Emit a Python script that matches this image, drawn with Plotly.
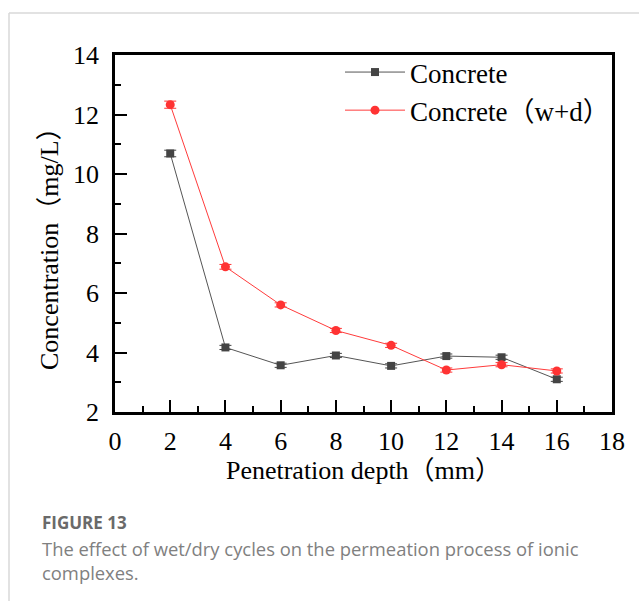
import plotly.graph_objects as go

depth = [2, 4, 6, 8, 10, 12, 14, 16]
conc_plain = [10.69, 4.17, 3.57, 3.90, 3.55, 3.88, 3.84, 3.10]
err_plain = [0.11, 0.07, 0.07, 0.07, 0.07, 0.07, 0.07, 0.07]
conc_wd = [12.33, 6.88, 5.60, 4.74, 4.24, 3.41, 3.59, 3.38]
err_wd = [0.12, 0.08, 0.07, 0.07, 0.07, 0.07, 0.07, 0.07]

series_names = ["Concrete", "Concrete（w+d）"]
x_title = "Penetration depth（mm）"
y_title = "Concentration（mg/L）"
fig_label = "FIGURE 13"
caption_lines = ["The effect of wet/dry cycles on the permeation process of ionic", "complexes."]

serif = "Liberation Serif, Times New Roman, Noto Sans CJK SC, serif"
FS = 26

fig = go.Figure()
fig.add_trace(go.Scatter(
    x=depth, y=conc_plain, name=series_names[0], mode="lines+markers",
    line=dict(color="#555555", width=1),
    marker=dict(symbol="square", size=8, color="#444444"),
    error_y=dict(type="data", array=err_plain, color="#444444", thickness=1, width=6),
))
fig.add_trace(go.Scatter(
    x=depth, y=conc_wd, name=series_names[1], mode="lines+markers",
    line=dict(color="#ff3b3b", width=1),
    marker=dict(symbol="circle", size=9, color="#ff3333"),
    error_y=dict(type="data", array=err_wd, color="#ff3333", thickness=1, width=6),
))

L, R, T, B = 115, 27, 55, 189
W, H = 639, 601
pw, ph = W - L - R, H - T - B

def px(x):
    return (x - L) / pw

def py(y):
    return (H - B - y) / ph

def axis_style():
    return dict(
        showline=True, linecolor="black", linewidth=2.5, mirror=True,
        ticks="inside", tickcolor="black", tickwidth=2, ticklen=12,
        showgrid=False, zeroline=False,
        tickfont=dict(family=serif, size=FS, color="black"),
        minor=dict(ticks="inside", ticklen=6, tickwidth=2, tickcolor="black", dtick=1),
    )

annotations = [
    dict(text=y_title, textangle=-90, xref="paper", yref="paper", x=px(49), y=py(242),
         xanchor="center", yanchor="middle", showarrow=False,
         font=dict(family=serif, size=FS, color="black")),
    dict(text="<b>" + fig_label + "</b>", xref="paper", yref="paper", x=px(40), y=py(522),
         xanchor="left", yanchor="middle", showarrow=False,
         font=dict(family="Open Sans, sans-serif", size=17, color="#6a6a6a")),
]
for i, line in enumerate(caption_lines):
    annotations.append(dict(
        text=line, xref="paper", yref="paper", x=px(40), y=py(548 + 24.5 * i),
        xanchor="left", yanchor="middle", showarrow=False, align="left",
        font=dict(family="Open Sans, sans-serif", size=18.4, color="#808080")))

fig.update_layout(
    width=W, height=H,
    margin=dict(l=L, r=R, t=T, b=B),
    paper_bgcolor="white", plot_bgcolor="white",
    showlegend=True,
    legend=dict(
        x=px(340), y=py(48), xanchor="left", yanchor="top",
        font=dict(family=serif, size=27, color="black"),
        bgcolor="rgba(0,0,0,0)", itemwidth=60,
        tracegroupgap=0,
    ),
    xaxis=dict(
        range=[0, 18], dtick=2, tick0=0,
        ticklabelstandoff=4,
        title=dict(text=x_title, font=dict(family=serif, size=FS, color="black"), standoff=2),
        **axis_style(),
    ),
    yaxis=dict(
        range=[2, 14], dtick=2, tick0=2,
        ticklabelstandoff=8,
        **axis_style(),
    ),
    shapes=[
        dict(type="line", xref="paper", yref="paper", x0=px(9), x1=px(639), y0=py(13), y1=py(13),
             line=dict(color="#d9d9d9", width=1.5)),
        dict(type="line", xref="paper", yref="paper", x0=px(9), x1=px(9), y0=py(13), y1=py(601),
             line=dict(color="#d9d9d9", width=1.5)),
    ],
    annotations=annotations,
)

fig.write_html("out.html")
